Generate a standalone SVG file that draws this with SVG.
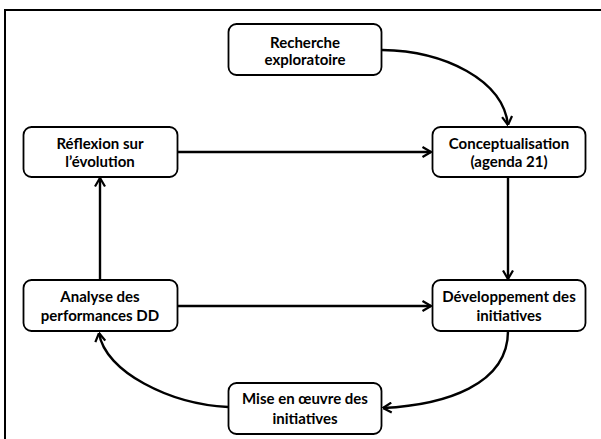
<svg xmlns="http://www.w3.org/2000/svg" width="601" height="439" viewBox="0 0 601 439">
<style>
.box{fill:#fff;stroke:#000;stroke-width:1.8}
.lbl{font-family:"Lato","Liberation Sans",sans-serif;font-weight:bold;font-size:15px;fill:#000;text-anchor:middle}
.conn{fill:none;stroke:#000;stroke-width:2.4}
</style>
<defs>
<marker id="arr" viewBox="0 0 10 12" refX="9.5" refY="6" markerWidth="10" markerHeight="12" markerUnits="userSpaceOnUse" orient="auto">
<path d="M1,1 L9.5,6 L1,11" fill="none" stroke="#000" stroke-width="2.2"/>
</marker>
</defs>
<rect x="5" y="10" width="610" height="450" fill="#fff" stroke="#000" stroke-width="2"/>
<g id="connectors">
<path class="conn" d="M382,50 C445,51 503,80 508,125" marker-end="url(#arr)"/>
<path class="conn" d="M177,152 L431,152" marker-end="url(#arr)"/>
<path class="conn" d="M508,177 L508,279" marker-end="url(#arr)"/>
<path class="conn" d="M177,306 L431,306" marker-end="url(#arr)"/>
<path class="conn" d="M508,331 C508,385 445,405 383,408" marker-end="url(#arr)"/>
<path class="conn" d="M228,407 C170,404 105,372 99,333" marker-end="url(#arr)"/>
<path class="conn" d="M100,280 L100,178" marker-end="url(#arr)"/>
</g>
<g id="recherche">
<rect class="box" x="228.5" y="24" width="153" height="51" rx="8"/>
<text class="lbl" x="305" y="48">Recherche</text>
<text class="lbl" x="305" y="65">exploratoire</text>
</g>
<g id="reflexion">
<rect class="box" x="23.5" y="127" width="154" height="50" rx="8"/>
<text class="lbl" x="100" y="149">Réflexion sur</text>
<text class="lbl" x="100" y="167">l’évolution</text>
</g>
<g id="conceptualisation">
<rect class="box" x="432.5" y="127" width="153" height="50" rx="8"/>
<text class="lbl" x="509" y="149">Conceptualisation</text>
<text class="lbl" x="509" y="167">(agenda 21)</text>
</g>
<g id="analyse">
<rect class="box" x="23.5" y="280" width="154" height="51" rx="8"/>
<text class="lbl" x="100" y="302">Analyse des</text>
<text class="lbl" x="100" y="321">performances DD</text>
</g>
<g id="developpement">
<rect class="box" x="432.5" y="280" width="153" height="51" rx="8"/>
<text class="lbl" x="509" y="302">Développement des</text>
<text class="lbl" x="509" y="321">initiatives</text>
</g>
<g id="mise">
<rect class="box" x="228.5" y="383" width="153" height="51" rx="8"/>
<text class="lbl" x="305" y="404">Mise en œuvre des</text>
<text class="lbl" x="305" y="424">initiatives</text>
</g>
</svg>
